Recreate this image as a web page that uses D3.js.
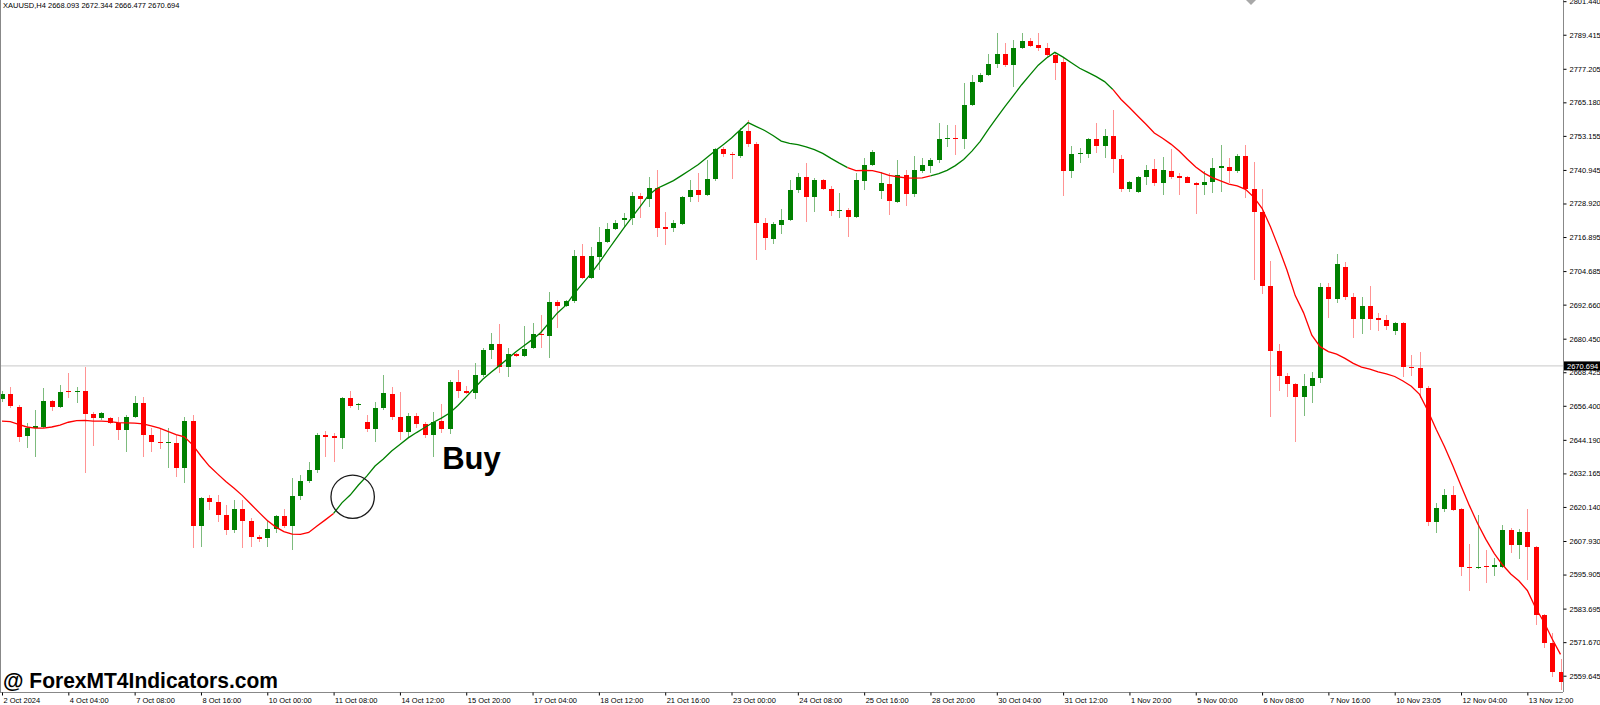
<!DOCTYPE html>
<html>
<head>
<meta charset="utf-8">
<script src="https://cdnjs.cloudflare.com/ajax/libs/d3/7.8.5/d3.min.js"></script>
<style>
  body { margin: 0; background: #fff; }
  svg { display: block; }
</style>
</head>
<body>
<svg id="chart" width="1600" height="705"></svg>
<script>
// ---- data ----
const symbol = "XAUUSD,H4";
const lastBar = [2668.093, 2672.344, 2666.477, 2670.694];
const bidPrice = 2670.694;

const opens = [
  2658.8,2660.6,2656.0,2645.6,2648.6,2648.8,2658.1,2656.0,2661.7,2661.3,
  2661.7,2653.5,2652.0,2652.0,2650.2,2647.7,2652.4,2657.4,2645.9,2643.4,
  2643.1,2643.1,2634.1,2650.9,2613.3,2623.3,2621.9,2617.3,2611.9,2619.4,
  2615.1,2609.4,2609.0,2612.2,2616.9,2613.3,2624.1,2629.4,2633.4,2645.9,
  2645.6,2644.9,2659.2,2656.7,2650.6,2648.1,2655.6,2660.6,2652.4,2647.0,
  2652.7,2649.9,2645.9,2650.9,2648.1,2664.9,2661.7,2661.0,2667.4,2676.4,
  2678.5,2670.3,2675.0,2674.3,2677.1,2682.1,2681.4,2693.6,2692.2,2694.0,
  2710.1,2702.2,2709.7,2715.1,2719.8,2723.0,2723.7,2731.6,2730.5,2734.5,
  2720.5,2720.1,2721.6,2731.2,2733.8,2732.0,2737.7,2748.4,2746.8,2745.9,
  2754.9,2750.2,2721.9,2716.2,2721.2,2723.0,2733.8,2738.4,2731.2,2737.3,
  2734.1,2726.2,2726.6,2724.1,2737.0,2742.7,2733.4,2735.9,2729.4,2739.1,
  2732.3,2740.6,2742.4,2744.5,2752.0,2752.4,2752.0,2764.2,2772.5,2775.0,
  2778.9,2782.5,2778.6,2784.7,2787.2,2785.7,2784.7,2782.1,2779.6,2740.6,
  2746.5,2746.7,2752.0,2749.5,2753.1,2744.9,2734.1,2733.0,2738.4,2741.3,
  2736.3,2740.6,2738.8,2738.4,2736.3,2735.5,2736.6,2741.6,2742.0,2740.6,
  2745.9,2734.1,2725.9,2699.3,2676.0,2667.1,2664.2,2659.6,2663.5,2666.4,
  2699.0,2694.7,2706.1,2695.5,2687.4,2692.3,2687.8,2687.1,2683.3,2686.0,
  2670.4,2669.8,2662.9,2614.9,2619.4,2624.4,2619.3,2598.7,2598.1,2599.0,
  2598.6,2598.7,2611.9,2606.5,2611.3,2605.7,2581.4,2571.5,2560.9
];
const highs = [
  2661.8,2663.1,2656.7,2650.2,2654.9,2662.8,2658.5,2663.9,2668.2,2663.1,
  2670.3,2654.2,2654.2,2652.4,2652.4,2653.1,2659.9,2659.6,2648.4,2648.1,
  2648.4,2645.9,2652.4,2653.1,2623.7,2624.4,2624.4,2620.8,2622.6,2622.6,
  2616.2,2610.1,2615.5,2617.3,2619.4,2630.5,2631.6,2636.3,2646.7,2647.4,
  2646.7,2659.6,2661.7,2657.4,2653.1,2657.8,2667.4,2663.1,2661.3,2653.8,
  2653.8,2650.6,2654.2,2657.0,2665.6,2669.2,2663.5,2671.7,2677.1,2682.5,
  2685.7,2677.1,2675.3,2685.0,2686.1,2689.0,2697.2,2694.3,2694.3,2712.2,
  2714.4,2713.3,2720.5,2721.9,2723.0,2725.5,2733.0,2732.7,2738.4,2740.9,
  2725.9,2723.0,2731.6,2737.3,2739.8,2744.5,2748.8,2749.2,2747.4,2756.0,
  2758.8,2751.0,2723.7,2722.3,2726.9,2737.3,2739.8,2743.4,2738.1,2737.7,
  2735.2,2732.7,2727.3,2739.8,2745.2,2748.1,2740.2,2739.8,2744.5,2740.9,
  2745.9,2745.2,2745.2,2757.8,2757.1,2757.1,2772.1,2775.0,2775.7,2782.5,
  2790.0,2786.4,2787.5,2790.0,2788.2,2790.0,2786.4,2782.9,2781.1,2749.5,
  2748.8,2752.4,2757.8,2755.6,2762.4,2746.3,2737.0,2738.8,2742.7,2744.9,
  2745.6,2748.4,2739.8,2738.8,2736.6,2740.6,2745.2,2749.9,2745.2,2746.7,
  2749.9,2743.8,2734.1,2708.3,2678.5,2668.1,2664.6,2667.8,2668.5,2700.4,
  2700.4,2710.8,2707.9,2696.7,2695.3,2699.5,2689.5,2688.9,2686.4,2686.3,
  2674.6,2675.8,2663.5,2621.4,2626.6,2627.6,2619.6,2606.9,2617.3,2604.7,
  2601.7,2613.7,2612.7,2612.1,2619.3,2606.1,2581.8,2575.1,2565.5
];
const lows = [
  2657.8,2655.6,2643.4,2641.3,2638.0,2648.4,2654.5,2655.6,2659.2,2657.4,
  2632.3,2642.0,2651.3,2650.0,2644.1,2639.8,2652.0,2638.0,2639.8,2640.9,
  2634.1,2630.9,2628.7,2605.4,2605.8,2619.0,2614.7,2610.1,2610.8,2605.4,
  2605.8,2607.6,2605.8,2610.8,2612.6,2604.7,2622.6,2628.7,2632.3,2638.0,
  2636.3,2640.9,2655.6,2654.9,2647.0,2643.4,2654.9,2651.3,2644.1,2645.2,
  2648.4,2644.9,2638.0,2646.6,2646.3,2659.2,2660.6,2658.8,2666.7,2673.2,
  2668.2,2666.7,2673.9,2673.9,2676.8,2677.1,2673.5,2684.3,2691.8,2693.2,
  2702.0,2701.9,2705.1,2714.8,2719.4,2720.5,2721.2,2723.7,2727.7,2716.9,
  2714.0,2718.7,2721.2,2729.4,2729.4,2731.6,2737.0,2745.6,2737.7,2745.2,
  2749.2,2708.7,2712.2,2714.4,2718.0,2722.6,2732.7,2722.3,2725.9,2733.8,
  2724.4,2723.7,2716.9,2723.7,2733.8,2742.4,2730.5,2724.8,2729.1,2728.0,
  2731.2,2739.8,2739.8,2743.4,2749.2,2746.3,2748.4,2763.9,2772.1,2774.6,
  2777.5,2777.8,2770.7,2784.3,2785.0,2783.6,2781.4,2773.2,2731.6,2738.1,
  2743.4,2745.2,2747.0,2745.2,2739.8,2733.0,2733.0,2732.7,2735.5,2735.2,
  2732.0,2737.7,2732.0,2736.1,2725.2,2732.0,2732.7,2733.0,2736.3,2739.8,
  2730.9,2701.5,2696.5,2652.4,2661.7,2659.6,2643.4,2652.7,2657.4,2664.6,
  2687.9,2693.2,2694.3,2680.6,2682.1,2683.6,2683.2,2683.6,2681.8,2666.6,
  2667.1,2659.1,2613.3,2610.7,2618.4,2618.8,2595.4,2590.0,2597.8,2592.8,
  2595.4,2598.1,2603.5,2601.4,2593.9,2577.8,2569.5,2559.3,2554.5
];
const closes = [
  2660.6,2656.3,2645.2,2648.4,2649.2,2658.1,2656.0,2661.3,2661.2,2661.7,
  2653.5,2652.0,2653.8,2650.2,2647.7,2652.4,2657.4,2645.9,2643.4,2643.1,
  2643.4,2634.1,2650.9,2613.3,2623.3,2621.9,2617.3,2611.9,2619.4,2615.1,
  2609.4,2608.6,2612.2,2616.9,2613.3,2624.1,2629.4,2633.4,2645.9,2645.2,
  2645.0,2659.2,2656.3,2657.2,2648.1,2655.6,2661.0,2652.4,2647.0,2652.7,
  2649.9,2645.9,2650.6,2648.1,2664.9,2661.7,2661.0,2667.4,2676.4,2678.5,
  2670.3,2675.0,2674.4,2676.8,2682.1,2681.6,2693.6,2692.2,2694.0,2710.1,
  2702.3,2710.1,2715.1,2719.8,2721.9,2723.7,2731.6,2730.5,2734.5,2720.1,
  2719.8,2721.9,2731.2,2733.8,2732.0,2737.7,2748.4,2746.7,2746.3,2754.9,
  2750.2,2721.9,2716.5,2721.6,2723.0,2733.8,2738.4,2731.2,2737.3,2734.1,
  2726.2,2726.6,2724.1,2737.3,2742.7,2747.4,2736.3,2729.8,2739.1,2732.3,
  2740.9,2742.7,2744.5,2752.0,2752.4,2751.9,2764.2,2772.5,2775.0,2778.9,
  2782.5,2778.6,2784.7,2787.2,2785.4,2784.7,2782.1,2779.3,2740.6,2746.7,
  2747.0,2752.0,2749.5,2753.1,2744.9,2734.1,2736.6,2738.4,2740.9,2736.3,
  2740.9,2738.4,2738.2,2736.3,2735.5,2736.6,2741.6,2742.4,2740.6,2745.9,
  2734.1,2725.9,2699.3,2676.0,2667.1,2664.2,2659.6,2663.5,2666.4,2699.0,
  2694.7,2707.2,2695.5,2687.4,2692.3,2687.5,2687.3,2685.0,2686.0,2670.4,
  2669.8,2662.7,2614.9,2619.7,2624.4,2619.0,2598.7,2598.1,2598.7,2598.5,
  2599.3,2611.9,2606.5,2611.3,2605.7,2581.4,2571.5,2561.1,2557.5
];

// moving average line as drawn on the chart, one value per bar
const maValues = [
  2650.9,2650.7,2649.7,2648.8,2648.4,2648.4,2648.8,2649.5,2650.5,2651.1,
  2651.2,2650.9,2650.9,2650.7,2650.4,2650.3,2650.2,2649.9,2649.2,2648.4,
  2647.2,2646.1,2645.3,2642.4,2638.4,2634.8,2632.0,2629.3,2626.8,2624.2,
  2621.2,2618.2,2615.3,2613.0,2611.3,2610.4,2610.3,2611.0,2613.3,2615.5,
  2617.8,2621.6,2624.4,2628.0,2631.2,2634.8,2637.3,2640.2,2642.5,2644.9,
  2646.8,2648.6,2650.4,2652.0,2653.8,2656.5,2659.6,2662.8,2665.9,2668.4,
  2670.8,2673.3,2675.8,2678.0,2680.2,2682.7,2686.2,2689.7,2692.4,2696.5,
  2700.1,2703.6,2707.5,2711.8,2716.0,2720.1,2724.0,2727.9,2731.9,2734.3,
  2735.7,2737.1,2739.0,2740.9,2742.9,2745.3,2747.7,2750.0,2752.4,2755.2,
  2757.9,2756.5,2755.1,2753.3,2751.3,2750.5,2750.0,2749.2,2748.2,2746.9,
  2745.1,2743.4,2741.8,2740.7,2740.8,2740.7,2740.0,2739.0,2738.5,2738.1,
  2738.0,2738.1,2738.8,2739.6,2740.8,2742.5,2744.7,2747.7,2751.2,2755.6,
  2759.7,2763.7,2767.6,2771.5,2775.0,2778.5,2781.1,2783.1,2781.4,2779.4,
  2777.4,2775.9,2774.4,2772.6,2769.8,2766.2,2763.3,2760.3,2757.3,2754.2,
  2752.3,2750.2,2747.7,2744.8,2742.0,2739.8,2738.2,2737.0,2735.9,2735.2,
  2734.0,2731.2,2727.2,2720.7,2713.1,2705.1,2695.9,2689.8,2681.7,2677.6,
  2675.8,2674.9,2673.4,2671.6,2670.3,2669.5,2668.6,2667.8,2666.9,2665.3,
  2663.4,2660.5,2654.6,2648.0,2641.8,2635.0,2627.7,2620.7,2614.2,2608.5,
  2603.5,2599.4,2596.1,2593.6,2590.2,2583.9,2578.9,2572.8,2567.3
];
// [first bar, last bar, direction] of each colour run of the MA
const maTrend = [[0, 40, "down"], [40, 102, "up"], [102, 112, "down"], [112, 134, "up"], [134, 188, "down"]];

const timeLabels = [
  "2 Oct 2024", "4 Oct 04:00", "7 Oct 08:00", "8 Oct 16:00", "10 Oct 00:00", "11 Oct 08:00",
  "14 Oct 12:00", "15 Oct 20:00", "17 Oct 04:00", "18 Oct 12:00", "21 Oct 16:00", "23 Oct 00:00",
  "24 Oct 08:00", "25 Oct 16:00", "28 Oct 20:00", "30 Oct 04:00", "31 Oct 12:00", "1 Nov 20:00",
  "5 Nov 00:00", "6 Nov 08:00", "7 Nov 16:00", "10 Nov 23:05", "12 Nov 04:00", "13 Nov 12:00"
];
const barsPerTimeLabel = 8;

const priceTicks = [
  2801.440, 2789.415, 2777.205, 2765.180, 2753.155, 2740.945, 2728.920, 2716.895, 2704.685,
  2692.660, 2680.450, 2668.425, 2656.400, 2644.190, 2632.165, 2620.140, 2607.930, 2595.905,
  2583.695, 2571.670, 2559.645
];

// annotations drawn over the chart
const signalMark = { bar: 42.3, price: 2623.8 };
const buyLabel = { bar: 53.1, price: 2633.6, text: "Buy" };
const watermark = "@ ForexMT4Indicators.com";

// ---- layout ----
const W = 1600, H = 705;
const plotRight = 1563, plotBottom = 692;
const upColor = "#008000", downColor = "#ff0000";
const upWick = "#7dbb7d", downWick = "#ff9494";
const font = "'Liberation Sans', Arial, sans-serif";

const svg = d3.select("#chart");
svg.append("rect").attr("width", W).attr("height", H).attr("fill", "#fff");

svg.append("defs").append("clipPath").attr("id", "plot")
  .append("rect").attr("x", 1).attr("y", 0).attr("width", plotRight - 1).attr("height", plotBottom);

const x = d3.scaleLinear().domain([0, opens.length - 1]).range([2, 1560.5]);
const y = d3.scaleLinear().domain([2680.45, 2559.645]).range([338.7, 675.7]);

const plot = svg.append("g").attr("clip-path", "url(#plot)");

// bid line
plot.append("line")
  .attr("x1", 0).attr("x2", plotRight)
  .attr("y1", y(bidPrice)).attr("y2", y(bidPrice))
  .attr("stroke", "#c8c8c8").attr("stroke-width", 1);

// candles
const bars = d3.range(opens.length).map(i => ({ i, o: opens[i], h: highs[i], l: lows[i], c: closes[i] }));

plot.append("g").attr("shape-rendering", "crispEdges")
  .selectAll("line").data(bars).join("line")
  .attr("x1", d => Math.round(x(d.i)) + 0.5).attr("x2", d => Math.round(x(d.i)) + 0.5)
  .attr("y1", d => y(d.h)).attr("y2", d => y(d.l))
  .attr("stroke", d => d.c >= d.o ? upWick : downWick).attr("stroke-width", 1);

plot.append("g").attr("shape-rendering", "crispEdges")
  .selectAll("rect").data(bars).join("rect")
  .attr("x", d => Math.round(x(d.i)) - 2)
  .attr("width", 5)
  .attr("y", d => y(Math.max(d.o, d.c)))
  .attr("height", d => Math.max(1, Math.abs(y(d.o) - y(d.c))))
  .attr("fill", d => d.c >= d.o ? upColor : downColor);

// moving average, coloured by trend
const maLine = d3.line().x(i => x(i)).y(i => y(maValues[i]));
maTrend.forEach(([from, to, dir]) => {
  plot.append("path")
    .attr("d", maLine(d3.range(from, to + 1)))
    .attr("fill", "none")
    .attr("stroke", dir === "up" ? upColor : downColor)
    .attr("stroke-width", 1.3);
});

// signal circle and label
svg.append("circle")
  .attr("cx", x(signalMark.bar)).attr("cy", y(signalMark.price)).attr("r", 21.7)
  .attr("fill", "none").attr("stroke", "#1a1a1a").attr("stroke-width", 1.3);

svg.append("text")
  .attr("x", x(buyLabel.bar)).attr("y", y(buyLabel.price))
  .attr("font-family", font).attr("font-weight", "bold").attr("font-size", 31)
  .attr("fill", "#000").text(buyLabel.text);

// watermark
svg.append("text")
  .attr("x", 3).attr("y", 688)
  .attr("font-family", font).attr("font-weight", "bold").attr("font-size", 22)
  .attr("textLength", 275).attr("lengthAdjust", "spacingAndGlyphs")
  .attr("fill", "#000").text(watermark);

// header
svg.append("text")
  .attr("x", 3).attr("y", 8)
  .attr("font-family", font).attr("font-size", 7.5).attr("fill", "#000")
  .text(symbol + "  " + lastBar.map(v => v.toFixed(3)).join(" "));

// shift marker at the top
svg.append("path")
  .attr("d", "M1246,0 L1256,0 L1251,5 Z").attr("fill", "#a8a8a8");

// frame
svg.append("g").attr("stroke", "#888").attr("shape-rendering", "crispEdges")
  .call(g => {
    g.append("line").attr("x1", 0.5).attr("x2", 0.5).attr("y1", 0).attr("y2", plotBottom);
    g.append("line").attr("x1", 0).attr("x2", plotRight).attr("y1", plotBottom + 0.5).attr("y2", plotBottom + 0.5);
    g.append("line").attr("x1", plotRight + 0.5).attr("x2", plotRight + 0.5).attr("y1", 0).attr("y2", plotBottom);
  });

// price axis
const yAxis = svg.append("g")
  .attr("transform", `translate(${plotRight + 0.5},0)`)
  .call(d3.axisRight(y).tickValues(priceTicks).tickSize(3).tickPadding(3).tickFormat(d => d.toFixed(3)));
yAxis.select(".domain").remove();
yAxis.selectAll("text").attr("font-family", font).attr("font-size", 7.5).attr("fill", "#000");
yAxis.selectAll("line").attr("stroke", "#000");

// current price box
const bid = svg.append("g").attr("transform", `translate(${plotRight + 1},${y(bidPrice)})`);
bid.append("rect").attr("x", 0).attr("y", -4.5).attr("width", 36).attr("height", 9).attr("fill", "#000");
bid.append("text").attr("x", 3).attr("y", 2.7)
  .attr("font-family", font).attr("font-size", 7.5).attr("fill", "#fff")
  .text(bidPrice.toFixed(3));

// time axis
const timeBars = timeLabels.map((_, k) => k * barsPerTimeLabel);
const xAxis = svg.append("g")
  .attr("transform", `translate(0,${plotBottom + 0.5})`)
  .call(d3.axisBottom(x).tickValues(timeBars).tickSize(3).tickFormat((d, k) => timeLabels[k]));
xAxis.select(".domain").remove();
xAxis.selectAll("line").attr("stroke", "#000");
xAxis.selectAll("text")
  .attr("text-anchor", "start").attr("x", 1).attr("y", 10.2).attr("dy", 0)
  .attr("font-family", font).attr("font-size", 7.5).attr("fill", "#000");
</script>
</body>
</html>
